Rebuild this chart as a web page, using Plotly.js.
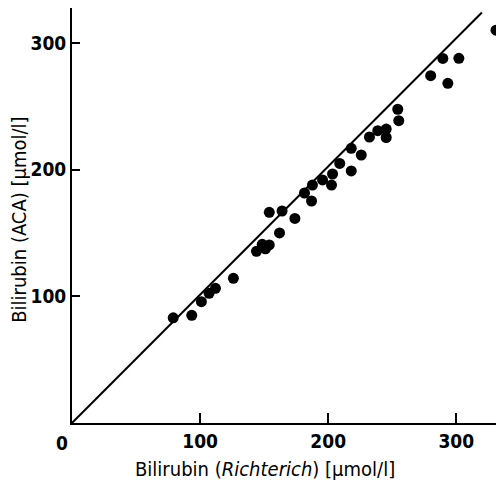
<!DOCTYPE html>
<html>
<head>
<meta charset="utf-8">
<script src="https://cdn.plot.ly/plotly-3.0.1.min.js"></script>
<style>html,body{margin:0;padding:0;background:#fff;}#chart{width:496px;height:483px;}</style>
</head>
<body>
<div id="chart"></div>
<script>
// Bilirubin (Richterich) vs Bilirubin (ACA), µmol/l
const richterich = [79, 93.5, 101, 107, 112, 126, 144, 148.5, 151, 154, 154, 164, 162, 174, 181.5, 187, 187.7, 195.6, 202.6, 203.4, 209, 218, 218, 225.8, 232.2, 238.7, 245.3, 245.3, 254.3, 255.1, 280, 289.5, 293.4, 302, 331];
const aca        = [83, 85, 95.7, 102.4, 106.3, 114.2, 135.5, 141, 137.5, 140.5, 166.3, 167.3, 150, 161.4, 181.5, 175.2, 187.8, 191.8, 187.8, 196.5, 204.8, 198.9, 216.8, 211.5, 225.7, 230.7, 232, 225.3, 247.6, 238.6, 274.1, 287.7, 268.1, 287.8, 310];
const lineX = [0, 320];
const lineY = [0, 324];
const xTicks = [0, 100, 200, 300];
const yTicks = [0, 100, 200, 300];
const xTickText = ['', '100', '200', '300'];
const yTickText = ['', '100', '200', '300'];

const tickFont = {family: '"Liberation Sans Narrow", "DejaVu Sans Condensed", sans-serif', size: 19, color: '#000', weight: 'bold'};
const titleFont = {family: '"Liberation Sans Narrow", "DejaVu Sans Condensed", sans-serif', size: 20, color: '#000'};

const data = [
  {x: lineX, y: lineY, mode: 'lines', line: {color: '#000', width: 2}, hoverinfo: 'skip', cliponaxis: false},
  {x: richterich, y: aca, mode: 'markers', marker: {color: '#000', size: 11}, cliponaxis: false}
];

const layout = {
  width: 496, height: 483,
  margin: {l: 72, r: 0, t: 8, b: 60},
  paper_bgcolor: '#fff', plot_bgcolor: '#fff',
  showlegend: false,
  xaxis: {
    range: [0, 331], showgrid: false, zeroline: false,
    showline: true, linecolor: '#000', linewidth: 2,
    ticks: 'inside', ticklen: 10, tickwidth: 2, tickcolor: '#000',
    tickvals: xTicks, ticktext: xTickText, tickfont: tickFont
  },
  yaxis: {
    range: [0, 327.5], showgrid: false, zeroline: false,
    showline: true, linecolor: '#000', linewidth: 2,
    ticks: 'inside', ticklen: 8, tickwidth: 2, tickcolor: '#000',
    tickvals: yTicks, ticktext: yTickText, tickfont: tickFont
  },
  annotations: [
    {text: 'Bilirubin (<i>Richterich</i>) [µmol/l]', xref: 'paper', yref: 'paper', x: 0.455, y: -0.111, showarrow: false, font: titleFont, xanchor: 'center', yanchor: 'middle'},
    {text: 'Bilirubin (ACA) [µmol/l]', xref: 'paper', yref: 'paper', x: -0.127, y: 0.49, textangle: -90, showarrow: false, font: titleFont, xanchor: 'center', yanchor: 'middle'},
    {text: '0', xref: 'paper', yref: 'paper', x: -0.024, y: -0.048, showarrow: false, font: tickFont, xanchor: 'center', yanchor: 'middle'}
  ]
};

Plotly.newPlot('chart', data, layout, {displayModeBar: false, staticPlot: true});
</script>
</body>
</html>
